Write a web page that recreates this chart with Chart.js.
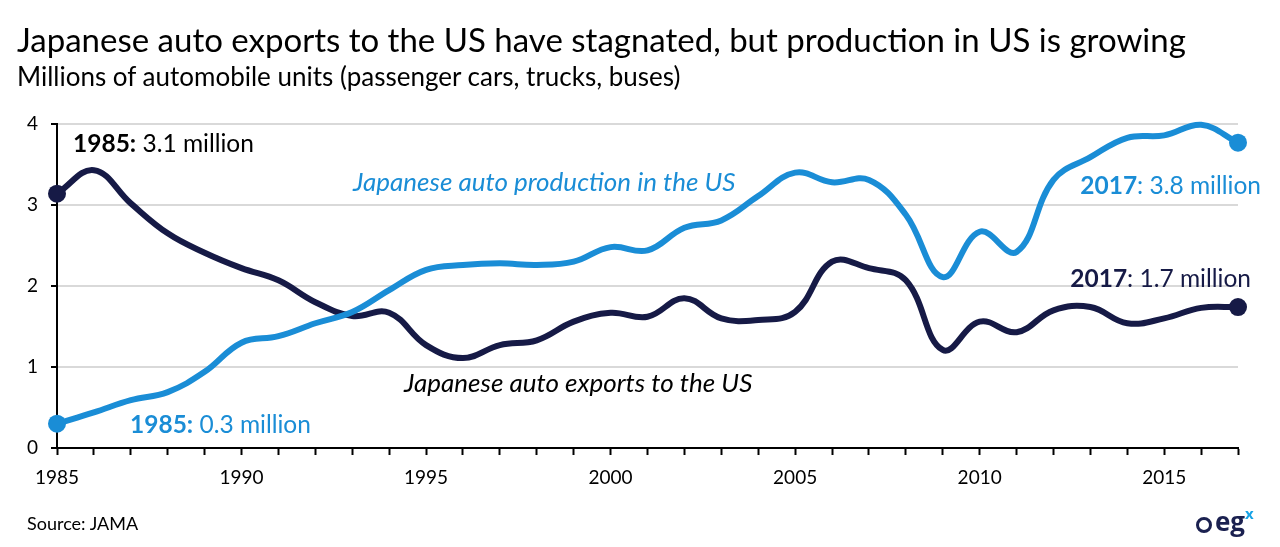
<!DOCTYPE html>
<html>
<head>
<meta charset="utf-8">
<script src="https://cdn.jsdelivr.net/npm/chart.js@4.4.1/dist/chart.umd.min.js"></script>
<style>
  html, body { margin: 0; padding: 0; background: #fff; }
  body { width: 1280px; height: 547px; position: relative; overflow: hidden; font-family: Lato, "Noto Sans", sans-serif; }
  #title { position: absolute; left: 17px; top: 19px; font-size: 33px; line-height: 40px; color: #000; white-space: nowrap; }
  #subtitle { position: absolute; left: 17px; top: 61px; font-size: 26px; line-height: 30px; color: #000; white-space: nowrap; }
  #source { position: absolute; left: 27px; top: 512px; font-size: 18px; line-height: 22px; color: #000; white-space: nowrap; }
  #logo { position: absolute; left: 1196px; top: 500px; font-size: 26px; font-weight: 700; color: #1b2150; white-space: nowrap; font-family: "Open Sans", sans-serif; line-height: 30px; }
  #logo sup { color: #17a3e6; font-size: 15px; position: relative; top: -2px; }
  #logo .ring { display: inline-block; width: 16px; height: 16px; border: 3px solid #1b2150; border-radius: 50%; margin-right: 3px; position: relative; top: 2px; box-sizing: border-box; }
  #wrap { position: absolute; left: 0; top: 0; width: 1280px; height: 547px; }
</style>
</head>
<body>
<div id="wrap"><canvas id="c" width="1280" height="547"></canvas></div>
<div id="title">Japanese auto exports to the US have stagnated, but production in US is growing</div>
<div id="subtitle">Millions of automobile units (passenger cars, trucks, buses)</div>
<div id="source">Source: JAMA</div>
<div id="logo"><span class="ring"></span>eg<sup>x</sup></div>
<script>
const years = [1985,1986,1987,1988,1989,1990,1991,1992,1993,1994,1995,1996,1997,1998,1999,2000,2001,2002,2003,2004,2005,2006,2007,2008,2009,2010,2011,2012,2013,2014,2015,2016,2017];
const exportsToUS = [3.14,3.43,3.02,2.65,2.41,2.22,2.07,1.80,1.63,1.67,1.27,1.11,1.27,1.33,1.56,1.67,1.62,1.85,1.60,1.58,1.68,2.30,2.22,2.07,1.21,1.56,1.43,1.70,1.74,1.54,1.60,1.73,1.74];
const productionInUS = [0.30,0.44,0.59,0.69,0.94,1.30,1.38,1.54,1.68,1.95,2.20,2.26,2.28,2.26,2.30,2.48,2.44,2.72,2.81,3.11,3.40,3.28,3.31,2.88,2.11,2.67,2.42,3.31,3.59,3.83,3.86,3.99,3.77];
const yTicks = [0,1,2,3,4];

const NAVY = '#161a46';
const BLUE = '#1a8dd6';

const endPoints = (arr) => arr.map((v, i) => (i === 0 || i === arr.length - 1) ? 9 : 0);

const annot = {
  id: 'annot',
  afterDraw(chart) {
    const ctx = chart.ctx;
    const x = chart.scales.x, y = chart.scales.y;
    const font = (w, s, it) => `${it ? 'italic ' : ''}${w} ${s}px Lato, "Noto Sans", sans-serif`;
    const FS = 24.5;
    function two(boldTxt, restTxt, px, py, color, align) {
      ctx.save();
      ctx.fillStyle = color;
      ctx.textBaseline = 'alphabetic';
      ctx.font = font(700, FS);
      const w1 = ctx.measureText(boldTxt).width;
      ctx.font = font(400, FS);
      const w2 = ctx.measureText(restTxt).width;
      let sx = align === 'right' ? px - w1 - w2 : px;
      ctx.font = font(700, FS);
      ctx.fillText(boldTxt, sx, py);
      ctx.font = font(400, FS);
      ctx.fillText(restTxt, sx + w1, py);
      ctx.restore();
    }
    const n = years.length - 1;
    two('1985:', ' 3.1 million', x.getPixelForValue(0) + 16, y.getPixelForValue(exportsToUS[0]) - 42, '#000', 'left');
    two('1985:', ' 0.3 million', x.getPixelForValue(0) + 73, y.getPixelForValue(productionInUS[0]) + 9, BLUE, 'left');
    two('2017', ': 3.8 million', x.getPixelForValue(n) + 23, y.getPixelForValue(productionInUS[n]) + 51, BLUE, 'right');
    two('2017', ': 1.7 million', x.getPixelForValue(n) + 13, y.getPixelForValue(exportsToUS[n]) - 20, NAVY, 'right');
    ctx.save();
    ctx.font = font(400, 26, true);
    ctx.fillStyle = BLUE;
    ctx.fillText('Japanese auto production in the US', 353, 191);
    ctx.fillStyle = '#000';
    ctx.fillText('Japanese auto exports to the US', 404, 392);
    ctx.restore();
  }
};

new Chart(document.getElementById('c'), {
  type: 'line',
  data: {
    labels: years,
    datasets: [
      { label: 'Japanese auto production in the US', data: productionInUS, borderColor: BLUE, backgroundColor: BLUE, borderWidth: 6, tension: 0.4, pointRadius: endPoints(productionInUS), pointBorderWidth: 0, pointBackgroundColor: BLUE, clip: false },
      { label: 'Japanese auto exports to the US', data: exportsToUS, borderColor: NAVY, backgroundColor: NAVY, borderWidth: 6, tension: 0.4, pointRadius: endPoints(exportsToUS), pointBorderWidth: 0, pointBackgroundColor: NAVY, clip: false }
    ]
  },
  options: {
    responsive: false,
    animation: false,
    events: [],
    layout: { padding: { left: 12, right: 42, top: 124, bottom: 59 } },
    plugins: { legend: { display: false }, tooltip: { enabled: false } },
    scales: {
      x: {
        type: 'category',
        offset: false,
        grid: { display: true, drawOnChartArea: false, drawTicks: true, tickLength: 7, tickColor: '#000', tickWidth: 2 },
        border: { display: true, color: '#000', width: 2 },
        ticks: {
          autoSkip: false, maxRotation: 0, color: '#000', padding: 11,
          font: { family: 'Lato, "Noto Sans", sans-serif', size: 19 },
          callback: function(v, i) { const yr = years[i]; return yr % 5 === 0 ? String(yr) : ''; }
        },
        afterFit(s) { s.height = 40; }
      },
      y: {
        min: 0, max: 4,
        afterBuildTicks(s) { s.ticks = yTicks.map(v => ({ value: v })); },
        grid: { color: '#d9d9d9', lineWidth: 2, drawTicks: true, tickLength: 6, tickColor: '#000', tickWidth: 2 },
        border: { display: true, color: '#000', width: 2 },
        ticks: { color: '#000', padding: 13, font: { family: 'Lato, "Noto Sans", sans-serif', size: 19 } },
        afterFit(s) { s.width = 45; }
      }
    }
  },
  plugins: [annot]
});
</script>
</body>
</html>
